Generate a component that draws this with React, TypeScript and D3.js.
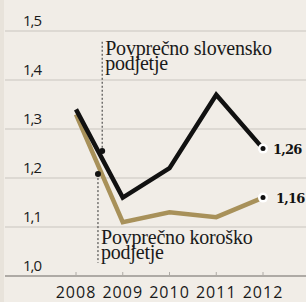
import React from "react";
import * as d3 from "d3";

const years = [2008, 2009, 2010, 2011, 2012];
const slovenia = [1.34, 1.16, 1.22, 1.37, 1.26];
const koroska = [1.33, 1.11, 1.13, 1.12, 1.16];
const yTicks = [1.0, 1.1, 1.2, 1.3, 1.4, 1.5];
const endLabels = ["1,26", "1,16"];
const slovAnchor = { year: 2008.56, value: 1.255, top: 1.478 };
const korAnchor = { year: 2008.47, value: 1.208, bottom: 1.027 };
const slovText = ["Povprečno slovensko", "podjetje"];
const korText = ["Povprečno koroško", "podjetje"];

const W = 306;
const H = 302;

export default function App() {
  const x = d3.scaleLinear().domain([2008, 2012]).range([76, 263]);
  const y = d3.scaleLinear().domain([1.0, 1.5]).range([276, 31]);
  const line = d3
    .line<number>()
    .x((_, i) => x(years[i]))
    .y((d) => y(d));

  const fmt = (v: number) => v.toFixed(1).replace(".", ",");

  const annot = (lines: string[], ax: number, ay: number) => (
    <text
      x={ax}
      y={ay}
      fontFamily="Liberation Serif"
      fontSize={20}
      letterSpacing={-0.2}
      fill="#1a1a1a"
    >
      {lines.map((t, i) => (
        <tspan key={i} x={ax} dy={i === 0 ? 0 : 15}>
          {t}
        </tspan>
      ))}
    </text>
  );

  return (
    <svg
      width={W}
      height={H}
      style={{ position: "absolute", left: 0, top: 0, background: "#f1ede7" }}
    >
      <rect x={0} y={0} width={4} height={H} fill="#e8e3db" />
      {yTicks.map((t) => (
        <g key={t}>
          <line
            x1={5}
            x2={W}
            y1={y(t)}
            y2={y(t)}
            stroke={t === 1.0 ? "#aeaaa5" : "#c9c5bf"}
            strokeWidth={t === 1.0 ? 2 : 1}
          />
          <text
            x={41}
            y={y(t) - 5}
            textAnchor="end"
            fontFamily="Open Sans"
            fontSize={15}
            letterSpacing={-1}
            fill="#1a1a1a"
          >
            {fmt(t)}
          </text>
        </g>
      ))}
      {years.map((yr) => (
        <g key={yr}>
          <line x1={x(yr)} x2={x(yr)} y1={y(1.0) - 4} y2={y(1.0)} stroke="#aeaaa5" strokeWidth={1} />
          <text
            x={x(yr)}
            y={298}
            textAnchor="middle"
            fontFamily="Open Sans"
            fontSize={16}
            letterSpacing={1}
            fill="#1a1a1a"
          >
            {yr}
          </text>
        </g>
      ))}
      <line
        x1={x(slovAnchor.year)}
        x2={x(slovAnchor.year)}
        y1={y(slovAnchor.top)}
        y2={y(slovAnchor.value)}
        stroke="#333"
        strokeWidth={1}
        strokeDasharray="2,2"
      />
      <line
        x1={x(korAnchor.year)}
        x2={x(korAnchor.year)}
        y1={y(korAnchor.value)}
        y2={y(korAnchor.bottom)}
        stroke="#333"
        strokeWidth={1}
        strokeDasharray="2,2"
      />
      <path d={line(koroska) || ""} fill="none" stroke="#a8915a" strokeWidth={4.5} strokeLinejoin="miter" />
      <path d={line(slovenia) || ""} fill="none" stroke="#111" strokeWidth={4.5} strokeLinejoin="miter" />
      <circle cx={x(slovAnchor.year)} cy={y(slovAnchor.value)} r={3} fill="#111" />
      <circle cx={x(korAnchor.year)} cy={y(korAnchor.value)} r={3} fill="#111" />
      {[slovenia, koroska].map((s, i) => (
        <g key={i}>
          <circle cx={x(2012)} cy={y(s[4])} r={5} fill="#fff" />
          <circle cx={x(2012)} cy={y(s[4])} r={2.5} fill="#111" />
          <text
            x={x(2012) + (i === 0 ? 10 : 13)}
            y={y(s[4]) + 5}
            fontFamily="DejaVu Serif"
            fontWeight="bold"
            fontSize={13}
            letterSpacing={-0.8}
            fill="#111"
          >
            {endLabels[i]}
          </text>
        </g>
      ))}
      {annot(slovText, x(slovAnchor.year) + 3, 55)}
      {annot(korText, x(korAnchor.year) + 3, 244)}
    </svg>
  );
}
